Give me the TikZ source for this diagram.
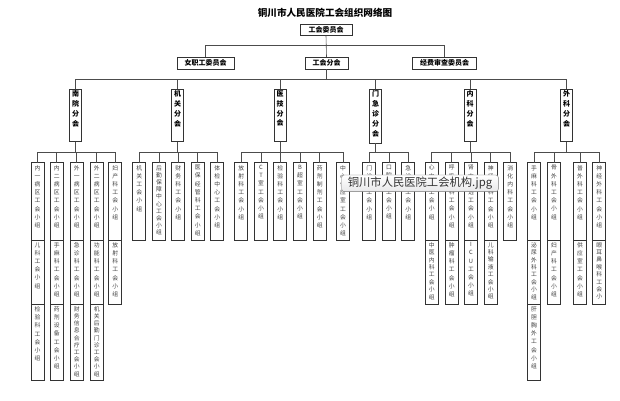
\documentclass[tikz,border=0pt]{standalone}
\usepackage{fontspec}
\setmainfont{Noto Sans CJK SC}
\usetikzlibrary{positioning}

\makeatletter
\newcommand\vt[1]{\let\vt@sep\relax\@tfor\vt@c:=#1\do{\vt@sep\vt@c\let\vt@sep\\}}
\makeatother
% one column of text, box of fixed height
\newcommand\grp[3][8.2]{\parbox[t][#2pt][t]{13pt}{\centering\fontsize{5.8}{#1}\selectfont\vspace*{2.5pt}\vt{#3}}}
\newcommand\fenh[2]{\parbox[t][#1pt][t]{12pt}{\centering\bfseries\fontsize{7}{9.8}\selectfont\vspace*{1.5pt}\vt{#2}}}

\begin{document}
\begin{tikzpicture}[x=1pt, y=-1pt,
  hode/.style={draw=black!80, line width=0.7pt, fill=white, font=\bfseries\fontsize{7}{8}\selectfont, minimum height=12pt, inner sep=0pt, outer sep=0pt},
  gren/.style={draw=black!80, line width=0.7pt, fill=white, anchor=north, inner sep=0pt, outer sep=0pt},
  grp/.style={gren, text=black!75},
  lin/.style={draw=black!70, line width=0.6pt},
  tip/.style={draw=black!55, rounded corners=2.5pt, top color=white, bottom color=blue!6!black!9, minimum width=156.6pt, minimum height=16.7pt, inner sep=0pt, font=\fontsize{11.3}{12}\selectfont, text=black!80}
]
\useasboundingbox (0,0) rectangle (620,400);

\node[font=\bfseries\fontsize{9.6}{11}\selectfont] (tittel) at (325,13) {铜川市人民医院工会组织网络图};
\node[hode, minimum width=52pt, minimum height=11pt] (wyh) at (326,30) {工会委员会};
\node[hode, minimum width=57pt] (nzg) at (205.5,63) {女职工委员会};
\node[hode, minimum width=43pt] (fen) at (326.5,63) {工会分会};
\node[hode, minimum width=64pt] (jf) at (444.5,63) {经费审查委员会};

% branches
\node[gren] (nan) at (75.5,89.3) {\fenh{52.4}{南院分会}};
\node[gren] (jg) at (177.5,89.3) {\fenh{52.4}{机关分会}};
\node[gren] (yj) at (280,89.3) {\fenh{52.4}{医技分会}};
\node[gren] (mjz) at (375.5,89.3) {\fenh{54}{门急诊分会}};
\node[gren] (nk) at (470,89.3) {\fenh{52.4}{内科分会}};
\node[gren] (wk) at (566.7,89.3) {\fenh{52.4}{外科分会}};

% nanyuan
\node[grp] (nan1a) at (37.5,162.7) {\grp{77.3}{内一病区工会小组}};
\node[grp, below=0pt of nan1a] (nan1b) {\grp{64}{儿科工会小组}};
\node[grp, below=0pt of nan1b] (nan1c) {\grp{76}{检验科工会小组}};
\node[grp] (nan2a) at (56.7,162.7) {\grp{77.3}{内二病区工会小组}};
\node[grp, below=0pt of nan2a] (nan2b) {\grp{64}{手麻科工会小组}};
\node[grp, below=0pt of nan2b] (nan2c) {\grp{76}{药剂设备工会小组}};
\node[grp] (nan3a) at (76.7,162.7) {\grp{77.3}{外一病区工会小组}};
\node[grp, below=0pt of nan3a] (nan3b) {\grp{64}{急诊科工会小组}};
\node[grp, below=0pt of nan3b] (nan3c) {\grp[7.2]{76}{财务信息合疗工会小组}};
\node[grp] (nan4a) at (96.7,162.7) {\grp{77.3}{外二病区工会小组}};
\node[grp, below=0pt of nan4a] (nan4b) {\grp{64}{功能科工会小组}};
\node[grp, below=0pt of nan4b] (nan4c) {\grp[7.2]{76}{机关后勤门诊工会小组}};
\node[grp] (nan5a) at (115.3,162.7) {\grp{77.3}{妇产科工会小组}};
\node[grp, below=0pt of nan5a] (nan5b) {\grp{64}{放射科工会小组}};

% jiguan
\node[grp] (jg1) at (139.3,162.7) {\grp{77.3}{机关工会小组}};
\node[grp] (jg2) at (159,162.7) {\grp[7.2]{77.3}{后勤保障中心工会小组}};
\node[grp] (jg3) at (178.3,162.7) {\grp{77.3}{财务科工会小组}};
\node[grp] (jg4) at (197.7,162.7) {\grp{77.3}{医保经管科工会小组}};
\node[grp] (jg5) at (217.3,162.7) {\grp{77.3}{体检中心工会小组}};

% yiji
\node[grp] (yj1) at (241.3,162.7) {\grp{77.3}{放射科工会小组}};
\node[grp] (yj2) at (261,162.7) {\grp{77.3}{CT室工会小组}};
\node[grp] (yj3) at (280.3,162.7) {\grp{77.3}{检验科工会小组}};
\node[grp] (yj4) at (300,162.7) {\grp{77.3}{B超室工会小组}};
\node[grp] (yj5) at (319.7,162.7) {\grp{77.3}{药剂制剂工会小组}};
\node[grp] (yj6) at (343,162.7) {\grp{77.3}{中心供应室工会小组}};

% menjizhen
\node[grp] (mjz1) at (369.3,162.7) {\grp{77.3}{门诊部工会小组}};
\node[grp] (mjz2) at (389,162.7) {\grp{77.3}{口腔科工会小组}};
\node[grp] (mjz3) at (408.3,162.7) {\grp{77.3}{急诊科工会小组}};

% neike
\node[grp] (nk1a) at (431.7,162.7) {\grp{77.3}{心内科工会小组}};
\node[grp, below=0pt of nk1a] (nk1b) {\grp[7.4]{64}{中医内科工会小组}};
\node[grp] (nk2a) at (451.7,162.7) {\grp{77.3}{呼吸内科工会小组}};
\node[grp, below=0pt of nk2a] (nk2b) {\grp{64}{肿瘤科工会小组}};
\node[grp] (nk3a) at (471,162.7) {\grp{77.3}{肾内血透工会小组}};
\node[grp, below=0pt of nk3a] (nk3b) {\grp{64}{ICU工会小组}};
\node[grp] (nk4a) at (490.7,162.7) {\grp{77.3}{神经内科工会小组}};
\node[grp, below=0pt of nk4a] (nk4b) {\grp[7.4]{64}{儿科输液工会小组}};
\node[grp] (nk5a) at (510.3,162.7) {\grp{77.3}{消化内科工会小组}};

% waike
\node[grp] (wk1a) at (534,162.7) {\grp{77.3}{手麻科工会小组}};
\node[grp, below=0pt of wk1a] (wk1b) {\grp[7.4]{64}{泌尿外科工会小组}};
\node[grp, below=0pt of wk1b] (wk1c) {\grp{76}{肝胆胸外工会小组}};
\node[grp] (wk2a) at (554,162.7) {\grp{77.3}{骨外科工会小组}};
\node[grp, below=0pt of wk2a] (wk2b) {\grp{64}{妇产科工会小组}};
\node[grp] (wk3a) at (580,162.7) {\grp{77.3}{普外科工会小组}};
\node[grp, below=0pt of wk3a] (wk3b) {\grp{64}{供应室工会小组}};
\node[grp] (wk4a) at (599.3,162.7) {\grp{77.3}{神经外科工会小组}};
\node[grp, below=0pt of wk4a] (wk4b) {\grp[7.4]{64}{眼耳鼻喉科工会小}};

\coordinate (bus1) at (0,45.7);
\coordinate (bus2) at (0,79.3);
\coordinate (bus3) at (0,152.7);

\draw[lin] (wyh.south) -- (fen.north);
\draw[lin] (wyh.south |- bus1) -| (nzg.north);
\draw[lin] (wyh.south |- bus1) -| (jf.north);
\foreach \b in {nan,jg,yj,mjz,nk,wk}
  \draw[lin] (fen.south) -- (fen.south |- bus2) -| (\b.north);
\foreach \c in {nan1a,nan2a,nan3a,nan4a,nan5a}
  \draw[lin] (nan.south) -- (nan.south |- bus3) -| (\c.north);
\foreach \c in {jg1,jg2,jg3,jg4,jg5}
  \draw[lin] (jg.south) -- (jg.south |- bus3) -| (\c.north);
\foreach \c in {yj1,yj2,yj3,yj4,yj5,yj6}
  \draw[lin] (yj.south) -- (yj.south |- bus3) -| (\c.north);
\foreach \c in {mjz1,mjz2,mjz3}
  \draw[lin] (mjz.south) -- (mjz.south |- bus3) -| (\c.north);
\foreach \c in {nk1a,nk2a,nk3a,nk4a,nk5a}
  \draw[lin] (nk.south) -- (nk.south |- bus3) -| (\c.north);
\foreach \c in {wk1a,wk2a,wk3a,wk4a}
  \draw[lin] (wk.south) -- (wk.south |- bus3) -| (\c.north);

\node[tip] (tip) at (420,183.3) {铜川市人民医院工会机构.jpg};
\end{tikzpicture}
\end{document}
